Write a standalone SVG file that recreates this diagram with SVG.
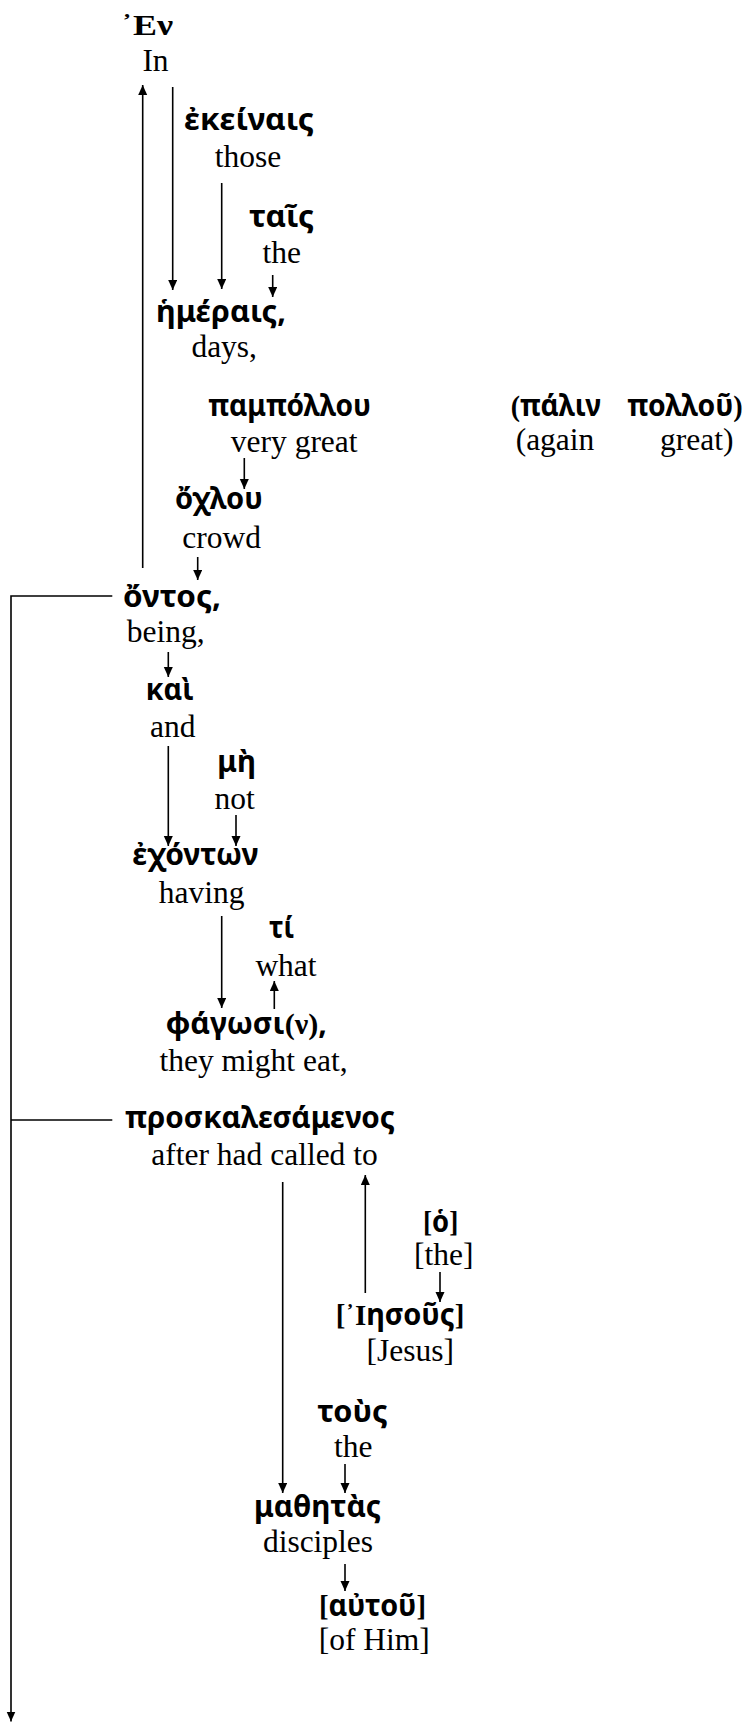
<svg xmlns="http://www.w3.org/2000/svg" width="747" height="1722" viewBox="0 0 747 1722">
<style>
.en{font-family:"Liberation Serif","Times New Roman",serif;font-size:31.5px;fill:#000;text-anchor:middle}
.gr{font-family:"Noto Sans","DejaVu Sans",sans-serif;font-size:30px;font-weight:bold;fill:#000}
.sf{font-family:"Liberation Serif","Times New Roman",serif;font-weight:bold}
.big{font-size:30px}
.ln{stroke:#000;stroke-width:1.6;fill:none}
.ar{marker-end:url(#ah)}
</style>
<defs>
<marker id="ah" markerUnits="userSpaceOnUse" markerWidth="11" markerHeight="10" refX="10" refY="4.5" orient="auto">
<path d="M0,0 L10,4.5 L0,9 z" fill="#000"/>
</marker>
</defs>
<rect width="747" height="1722" fill="#fff"/>

<g id="connectors">
<line class="ln ar" x1="142.7" y1="568" x2="142.7" y2="85"/>
<line class="ln ar" x1="172.7" y1="87" x2="172.7" y2="290"/>
<line class="ln ar" x1="221.7" y1="183" x2="221.7" y2="289"/>
<line class="ln ar" x1="272.7" y1="275" x2="272.7" y2="297"/>
<line class="ln ar" x1="244.3" y1="458" x2="244.3" y2="489"/>
<line class="ln ar" x1="197.7" y1="557" x2="197.7" y2="580"/>
<line class="ln ar" x1="168.3" y1="652" x2="168.3" y2="677"/>
<line class="ln ar" x1="168.3" y1="746" x2="168.3" y2="846"/>
<line class="ln ar" x1="236" y1="815" x2="236" y2="846"/>
<line class="ln ar" x1="221.7" y1="916" x2="221.7" y2="1008"/>
<line class="ln ar" x1="274.3" y1="1009" x2="274.3" y2="981"/>
<polyline class="ln ar" points="112.3,596 11,596 11,1721.5"/>
<line class="ln" x1="112.3" y1="1120" x2="11" y2="1120"/>
<line class="ln ar" x1="282.7" y1="1182" x2="282.7" y2="1493"/>
<line class="ln ar" x1="365.3" y1="1293" x2="365.3" y2="1175"/>
<line class="ln ar" x1="440" y1="1272" x2="440" y2="1302"/>
<line class="ln ar" x1="345" y1="1464" x2="345" y2="1493"/>
<line class="ln ar" x1="345" y1="1564" x2="345" y2="1591"/>
</g>

<g id="n-en">
<text class="gr" x="121" y="35" textLength="52" lengthAdjust="spacingAndGlyphs"><tspan class="sf big">᾿Εν</tspan></text>
<text class="en" x="155.5" y="70.7">In</text>
</g>
<g id="n-ekeinais">
<text class="gr" x="184" y="130" textLength="130" lengthAdjust="spacingAndGlyphs">ἐκείναις</text>
<text class="en" x="248" y="166.7">those</text>
</g>
<g id="n-tais">
<text class="gr" x="249" y="226.7" textLength="65" lengthAdjust="spacingAndGlyphs">ταῖς</text>
<text class="en" x="281.7" y="263.3">the</text>
</g>
<g id="n-hemerais">
<text class="gr" x="156" y="321.7" textLength="130" lengthAdjust="spacingAndGlyphs">ἡμέραις,</text>
<text class="en" x="224.2" y="356.7">days,</text>
</g>
<g id="n-pampollou">
<text class="gr" x="208.3" y="416" textLength="162.7" lengthAdjust="spacingAndGlyphs">παμπόλλου</text>
<text class="en" x="294.2" y="452">very great</text>
</g>
<g id="n-palin">
<text class="gr" x="510.7" y="416" textLength="90.3" lengthAdjust="spacingAndGlyphs"><tspan class="sf">(</tspan>πάλιν</text>
<text class="gr" x="627.3" y="416" textLength="115.4" lengthAdjust="spacingAndGlyphs">πολλοῦ<tspan class="sf">)</tspan></text>
<text class="en" x="555" y="450">(again</text>
<text class="en" x="696.7" y="450">great)</text>
</g>
<g id="n-ochlou">
<text class="gr" x="175" y="509.3" textLength="87.7" lengthAdjust="spacingAndGlyphs">ὄχλου</text>
<text class="en" x="221.7" y="547.7">crowd</text>
</g>
<g id="n-ontos">
<text class="gr" x="123" y="606.7" textLength="98" lengthAdjust="spacingAndGlyphs">ὄντος,</text>
<text class="en" x="165.8" y="641.7">being,</text>
</g>
<g id="n-kai">
<text class="gr" x="145.7" y="700" textLength="48" lengthAdjust="spacingAndGlyphs">καὶ</text>
<text class="en" x="172.8" y="736.7">and</text>
</g>
<g id="n-me">
<text class="gr" x="217.3" y="772" textLength="38.7" lengthAdjust="spacingAndGlyphs">μὴ</text>
<text class="en" x="234.7" y="809.3">not</text>
</g>
<g id="n-echonton">
<text class="gr" x="132.3" y="865" textLength="126" lengthAdjust="spacingAndGlyphs">ἐχόντων</text>
<text class="en" x="201.7" y="903.3">having</text>
</g>
<g id="n-ti">
<text class="gr" x="269" y="938.3" textLength="25.3" lengthAdjust="spacingAndGlyphs">τί</text>
<text class="en" x="286" y="975.5">what</text>
</g>
<g id="n-phagosi">
<text class="gr" x="165.7" y="1034" textLength="161.3" lengthAdjust="spacingAndGlyphs">φάγωσι<tspan class="sf">(ν)</tspan>,</text>
<text class="en" x="253.5" y="1070.7">they might eat,</text>
</g>
<g id="n-proskalesamenos">
<text class="gr" x="125" y="1128.3" textLength="270" lengthAdjust="spacingAndGlyphs">προσκαλεσάμενος</text>
<text class="en" x="264.5" y="1165">after had called to</text>
</g>
<g id="n-ho">
<text class="gr" x="423" y="1231.7" textLength="35.3" lengthAdjust="spacingAndGlyphs"><tspan class="sf">[</tspan>ὁ<tspan class="sf">]</tspan></text>
<text class="en" x="443.8" y="1265">[the]</text>
</g>
<g id="n-iesous">
<text class="gr" x="335.7" y="1325" textLength="128.6" lengthAdjust="spacingAndGlyphs"><tspan class="sf">[᾿Ι</tspan>ησοῦς<tspan class="sf">]</tspan></text>
<text class="en" x="410.3" y="1360.7">[Jesus]</text>
</g>
<g id="n-tous">
<text class="gr" x="317.3" y="1421.7" textLength="70.4" lengthAdjust="spacingAndGlyphs">τοὺς</text>
<text class="en" x="353.3" y="1456.7">the</text>
</g>
<g id="n-mathetas">
<text class="gr" x="254" y="1516.7" textLength="127" lengthAdjust="spacingAndGlyphs">μαθητὰς</text>
<text class="en" x="318" y="1551.7">disciples</text>
</g>
<g id="n-autou">
<text class="gr" x="319" y="1616" textLength="107" lengthAdjust="spacingAndGlyphs"><tspan class="sf">[</tspan>αὐτοῦ<tspan class="sf">]</tspan></text>
<text class="en" x="374.3" y="1650">[of Him]</text>
</g>
</svg>
